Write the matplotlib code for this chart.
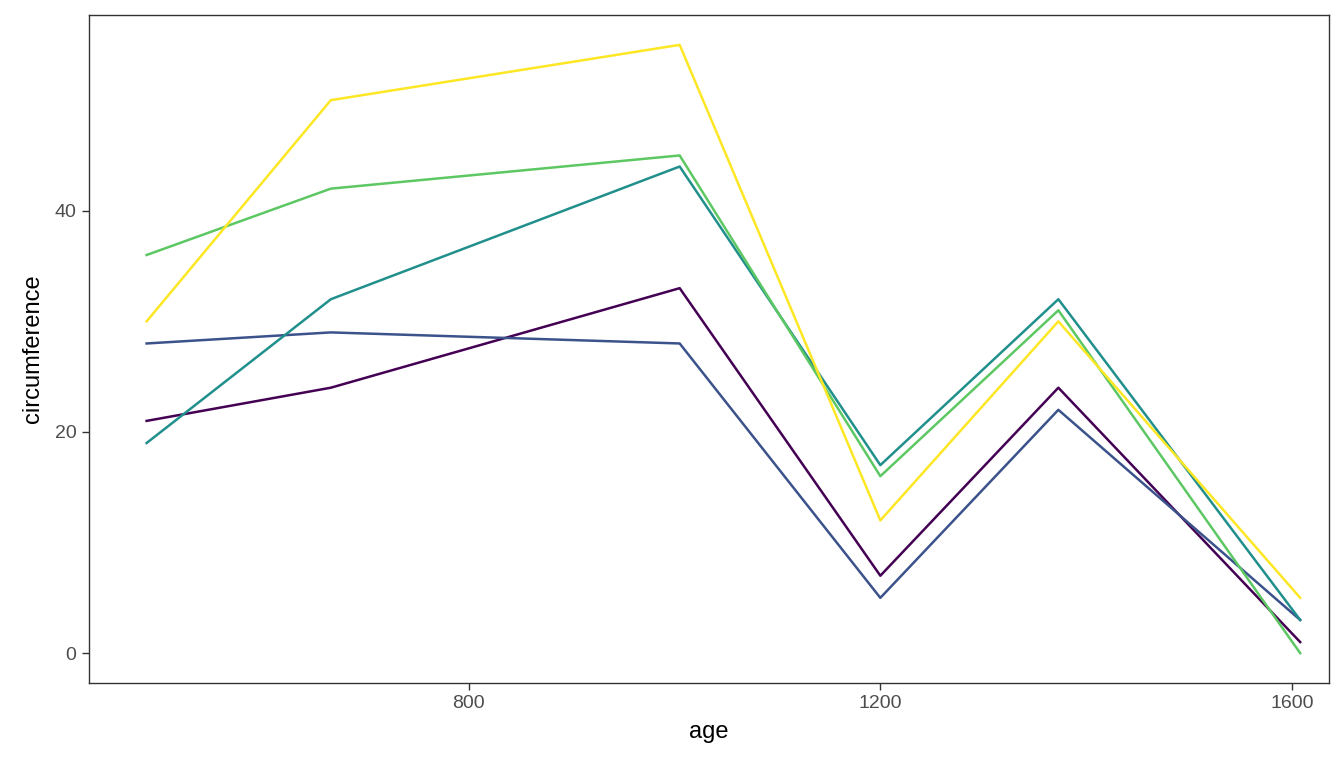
import matplotlib
matplotlib.use("Agg")
import matplotlib.pyplot as plt

age = [487, 666, 1005, 1200, 1373, 1608]
series = {
    "1": [21, 24, 33, 7, 24, 1],
    "2": [28, 29, 28, 5, 22, 3],
    "3": [19, 32, 44, 17, 32, 3],
    "4": [36, 42, 45, 16, 31, 0],
    "5": [30, 50, 55, 12, 30, 5],
}
colors = ["#440154", "#3B528B", "#21908C", "#5DC863", "#FDE725"]

plt.rcParams["font.family"] = ["Liberation Sans", "DejaVu Sans"]
fig = plt.figure(figsize=(13.44, 7.68), dpi=100)
ax = fig.add_axes([89 / 1344, 1 - 683 / 768, (1329 - 89) / 1344, (683 - 15) / 768])
for (k, v), c in zip(series.items(), colors):
    ax.plot(age, v, color=c, lw=1.8)

ax.set_xlim(431, 1636)
ax.set_ylim(-2.7, 57.7)
ax.set_xticks([800, 1200, 1600])
ax.set_yticks([0, 20, 40])
ax.tick_params(labelsize=14, colors="#333333", labelcolor="#4d4d4d",
               length=5, width=1, direction="out", pad=4)
for s in ax.spines.values():
    s.set_color("#333333")
    s.set_linewidth(1)
ax.set_xlabel("age", fontsize=17, labelpad=6)
ax.set_ylabel("circumference", fontsize=17, labelpad=8)
fig.savefig("out.png", dpi=100, facecolor="white")
